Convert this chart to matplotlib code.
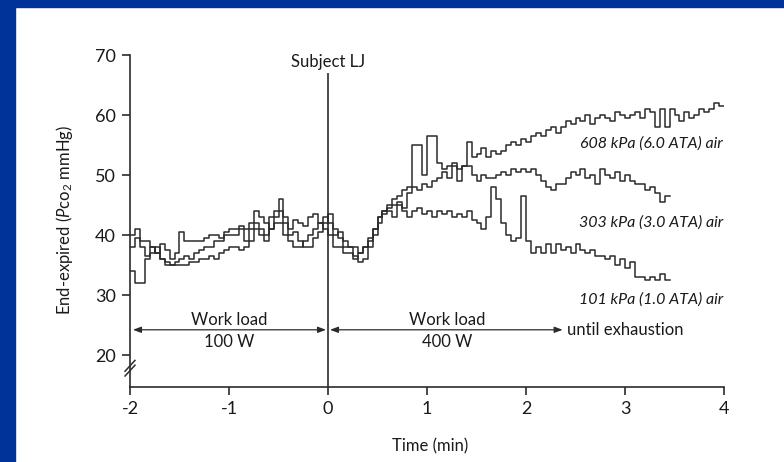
import matplotlib
matplotlib.use("Agg")
import matplotlib.pyplot as plt
import numpy as np
from matplotlib.patches import Rectangle

# ----- Matplotlib settings -----
plt.rcParams["font.family"] = ["Lato", "DejaVu Sans"]
plt.rcParams["font.size"] = 12
plt.rcParams["mathtext.fontset"] = "custom"
plt.rcParams["mathtext.rm"] = "Lato"
plt.rcParams["mathtext.it"] = "Lato:italic"

# ----- Data (end-expired PCO2, mmHg, one value every 0.05 min from t = -2) -----
t_start = -2.0
dt = 0.05

pco2_608 = [
    38, 39.5, 38, 36.5, 37, 38, 36, 35.5, 35, 35,
    35, 35, 35.5, 35.5, 36, 36, 36.5, 36, 37, 37.5,
    38, 38, 37.5, 38, 39, 41, 41, 40, 43, 44,
    46, 43, 40, 40.5, 39, 38, 38, 39.5, 40.5, 42,
    43.5, 41, 39.5, 38, 38, 36.5, 35.5, 36, 38, 40,
    42, 43.5, 44.5, 45, 45.5, 44.5, 47, 55, 55, 50,
    56.5, 56.5, 52, 51, 51.5, 52, 51, 51.5, 55.5, 53,
    53.5, 54.5, 53, 54, 53.5, 54, 55, 55.5, 55, 56,
    55.5, 56.5, 57, 56.5, 57.5, 58, 57, 58, 59, 58.5,
    59.5, 59, 60, 58.5, 59.5, 60, 59.5, 59, 60.5, 60,
    59.5, 60, 60.5, 59.5, 61, 60.5, 58, 61, 58, 61,
    60, 59, 60.5, 59.5, 60, 61, 60.5, 61, 62, 61.5,
]

pco2_303 = [
    40, 41, 39, 39, 38, 37, 38.5, 37.5, 36, 37,
    40.5, 39, 39, 39, 39, 39.5, 40, 40, 39.5, 40.5,
    41, 41, 41.5, 39, 41, 44, 43, 42, 41, 43,
    44, 42, 41, 42.5, 42, 41.5, 43, 43.5, 42, 43,
    42, 40, 40.5, 39, 38, 38, 37, 38, 39.5, 41,
    43, 44, 45, 46, 46.5, 47.5, 48, 48, 47.5, 48.5,
    48, 49, 49.5, 50.5, 49.5, 51.5, 49, 51.5, 51.5, 50,
    49, 50, 49.5, 49.5, 50, 50.5, 50, 51, 50.5, 51,
    50.5, 51, 50, 49, 48, 47.5, 48.5, 48.5, 49.5, 50.5,
    50, 51, 49.5, 50, 48.5, 51, 50, 49.5, 50.5, 49,
    50, 49, 48.5, 48.5, 47.5, 48, 47, 45.5, 46.5,
]

pco2_101 = [
    34, 32, 32, 36, 38, 37, 36, 35, 35, 35.5,
    36, 36.5, 36, 37, 37.5, 38, 38, 39, 39, 40,
    40, 40, 41, 41, 42, 42, 40, 39, 41, 42,
    42, 40, 39, 38, 38, 39, 40, 41, 42, 41,
    40, 38, 38, 37, 37, 36, 37, 38, 39, 41,
    43, 44, 44, 43, 45, 44, 43, 44, 44.5, 43.5,
    44, 43, 44, 43.5, 44, 43, 43.5, 43, 44, 42.5,
    42, 41, 43, 48, 46, 42, 40, 39, 39.5, 46.5,
    39, 37, 38, 37, 38.5, 37, 38.5, 37.5, 38, 37,
    38.5, 37.5, 37, 37.5, 36.5, 36.5, 36, 36.5, 35, 36,
    34.5, 35.5, 33, 33, 32.5, 33, 32.5, 33.5, 32.5,
]

series = [
    (pco2_608, "608 kPa (6.0 ATA) air", 55.3),
    (pco2_303, "303 kPa (3.0 ATA) air", 42.0),
    (pco2_101, "101 kPa (1.0 ATA) air", 29.2),
]

x_ticks = [-2, -1, 0, 1, 2, 3, 4]
y_ticks = [20, 30, 40, 50, 60, 70]


def main():
    W, H = 784, 462
    fig = plt.figure(figsize=(W / 100, H / 100), dpi=100, facecolor="white")

    # blue slide border (left and top)
    blue = "#00339a"
    fig.patches.append(Rectangle((0, 0), 15 / W, 1, transform=fig.transFigure,
                                 color=blue, zorder=0))
    fig.patches.append(Rectangle((0, 1 - 7 / H), 1, 7 / H, transform=fig.transFigure,
                                 color=blue, zorder=0))

    left, right, bottom, top = 130, 724, 387, 55
    ax = fig.add_axes([left / W, 1 - bottom / H, (right - left) / W, (bottom - top) / H])
    ax.set_facecolor("none")

    y_low = 70 - (bottom - top) / 6
    ax.set_xlim(-2, 4)
    ax.set_ylim(y_low, 70)

    ink = "#2b2b2b"
    for vals, label, ylab in series:
        v = np.array(vals + [vals[-1]], dtype=float)
        t = t_start + dt * np.arange(len(v))
        ax.step(t, v, where="post", color=ink, lw=1.1)
        ax.text(3.99, ylab, label, ha="right", va="center", style="italic",
                fontsize=11.5, color="#1a1a1a")

    # spines and ticks
    for s in ["top", "right"]:
        ax.spines[s].set_visible(False)
    for s in ["left", "bottom"]:
        ax.spines[s].set_linewidth(1.2)
        ax.spines[s].set_color(ink)
    ax.set_xticks(x_ticks)
    ax.set_xticklabels([str(x) for x in x_ticks])
    ax.set_yticks(y_ticks)
    ax.tick_params(length=6, width=1.2, color=ink, labelsize=13, labelcolor="#1a1a1a", pad=4)

    # axis break marks
    for yb in [17.4, 18.2]:
        ax.plot([-2.05, -1.95], [yb - 0.9, yb + 0.9], color=ink, lw=1.1,
                clip_on=False, transform=ax.transData)

    # start of 400 W exercise
    ax.vlines(0, y_low, 67, color=ink, lw=1.2)
    ax.text(0, 68.9, "Subject LJ", ha="center", va="center", fontsize=12, color="#1a1a1a")

    # work load arrows
    arrow = dict(arrowstyle="<|-|>,head_length=0.4,head_width=0.15", color=ink, lw=0.9,
                 shrinkA=0, shrinkB=0)
    ax.annotate("", xy=(-1.97, 24.2), xytext=(-0.02, 24.2), arrowprops=arrow)
    ax.annotate("", xy=(0.02, 24.2), xytext=(2.37, 24.2), arrowprops=arrow)
    ax.text(-1, 25.9, "Work load", ha="center", va="center", color="#1a1a1a")
    ax.text(-1, 22.2, "100 W", ha="center", va="center", color="#1a1a1a")
    ax.text(1.2, 25.9, "Work load", ha="center", va="center", color="#1a1a1a")
    ax.text(1.2, 22.2, "400 W", ha="center", va="center", color="#1a1a1a")
    ax.text(2.41, 24.2, "until exhaustion", ha="left", va="center", color="#1a1a1a")

    ax.set_xlabel("Time (min)", fontsize=12, color="#1a1a1a")
    ax.set_ylabel(r"End-expired ($P$co$_2$ mmHg)", fontsize=12, color="#1a1a1a")
    ax.xaxis.set_label_coords((430 - left) / (right - left), -(438 - bottom) / (bottom - top))
    ax.yaxis.set_label_coords(-(left - 75) / (right - left), (bottom - 220) / (bottom - top))

    fig.savefig("out.png", dpi=100, facecolor=fig.get_facecolor())


if __name__ == "__main__":
    main()
